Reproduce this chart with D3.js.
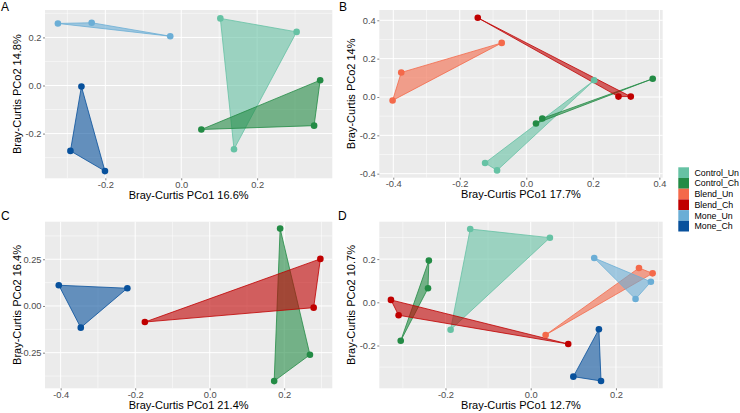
<!DOCTYPE html>
<html><head><meta charset="utf-8">
<script src="https://cdn.jsdelivr.net/npm/d3@7"></script>
<style>body{margin:0;background:#fff}svg{display:block}text{font-family:"Liberation Sans",Arial,sans-serif}</style>
</head><body><svg id="c" width="740" height="413"></svg>
<script>
const groups = ["Control_Un","Control_Ch","Blend_Un","Blend_Ch","Mone_Un","Mone_Ch"];
const groupColors = ["#66c2a4","#238b45","#f4694a","#c00000","#6baed6","#08519c"];

const pointsA = [
  {g:"Control_Un",x:0.103,y:0.279},{g:"Control_Un",x:0.304,y:0.223},{g:"Control_Un",x:0.139,y:-0.265},
  {g:"Control_Ch",x:0.366,y:0.022},{g:"Control_Ch",x:0.350,y:-0.167},{g:"Control_Ch",x:0.053,y:-0.183},
  {g:"Mone_Un",x:-0.325,y:0.258},{g:"Mone_Un",x:-0.236,y:0.261},{g:"Mone_Un",x:-0.029,y:0.205},
  {g:"Mone_Ch",x:-0.263,y:-0.004},{g:"Mone_Ch",x:-0.292,y:-0.272},{g:"Mone_Ch",x:-0.201,y:-0.356}
];
const pointsB = [
  {g:"Control_Un",x:0.204,y:0.087},{g:"Control_Un",x:-0.124,y:-0.344},{g:"Control_Un",x:-0.088,y:-0.383},
  {g:"Control_Ch",x:0.380,y:0.095},{g:"Control_Ch",x:0.048,y:-0.112},{g:"Control_Ch",x:0.029,y:-0.138},
  {g:"Blend_Un",x:-0.074,y:0.282},{g:"Blend_Un",x:-0.376,y:0.128},{g:"Blend_Un",x:-0.402,y:-0.018},
  {g:"Blend_Ch",x:-0.146,y:0.413},{g:"Blend_Ch",x:0.277,y:0.002},{g:"Blend_Ch",x:0.314,y:0.002}
];
const pointsC = [
  {g:"Control_Ch",x:0.189,y:0.414},{g:"Control_Ch",x:0.269,y:-0.261},{g:"Control_Ch",x:0.173,y:-0.402},
  {g:"Blend_Ch",x:0.297,y:0.252},{g:"Blend_Ch",x:0.279,y:-0.009},{g:"Blend_Ch",x:-0.174,y:-0.086},
  {g:"Mone_Ch",x:-0.405,y:0.111},{g:"Mone_Ch",x:-0.221,y:0.095},{g:"Mone_Ch",x:-0.346,y:-0.116}
];
const pointsD = [
  {g:"Control_Un",x:-0.142,y:0.339},{g:"Control_Un",x:0.045,y:0.299},{g:"Control_Un",x:-0.188,y:-0.127},
  {g:"Control_Ch",x:-0.239,y:0.193},{g:"Control_Ch",x:-0.241,y:0.065},{g:"Control_Ch",x:-0.305,y:-0.178},
  {g:"Blend_Un",x:0.254,y:0.159},{g:"Blend_Un",x:0.286,y:0.134},{g:"Blend_Un",x:0.035,y:-0.151},
  {g:"Blend_Ch",x:-0.328,y:0.011},{g:"Blend_Ch",x:-0.310,y:-0.060},{g:"Blend_Ch",x:0.088,y:-0.193},
  {g:"Mone_Un",x:0.149,y:0.205},{g:"Mone_Un",x:0.282,y:0.095},{g:"Mone_Un",x:0.246,y:0.015},
  {g:"Mone_Ch",x:0.160,y:-0.125},{g:"Mone_Ch",x:0.100,y:-0.344},{g:"Mone_Ch",x:0.165,y:-0.364}
];

const xTicksA = [-0.2,0.0,0.2], yTicksA = [-0.2,0.0,0.2];
const xTicksB = [-0.4,-0.2,0.0,0.2,0.4], yTicksB = [-0.4,-0.2,0.0,0.2,0.4];
const xTicksC = [-0.4,-0.2,0.0,0.2], yTicksC = [-0.25,0.00,0.25];
const xTicksD = [-0.2,0.0,0.2], yTicksD = [-0.2,0.0,0.2];
const xLabels = ["Bray-Curtis PCo1 16.6%","Bray-Curtis PCo1 17.7%","Bray-Curtis PCo1 21.4%","Bray-Curtis PCo1 12.7%"];
const yLabels = ["Bray-Curtis PCo2 14.8%","Bray-Curtis PCo2 14%","Bray-Curtis PCo2 16.4%","Bray-Curtis PCo2 10.7%"];
const panelTags = ["A","B","C","D"];

const panels = [
  {pts:pointsA, xt:xTicksA, yt:yTicksA, xd:[-0.359,0.398], yd:[-0.386,0.314], box:[45,332.3,10,178.3], yfmt:".1f", tagX:1, tagY:11},
  {pts:pointsB, xt:xTicksB, yt:yTicksB, xd:[-0.442,0.410], yd:[-0.421,0.4537], box:[379.3,662.7,10,177.7], yfmt:".1f", tagX:339, tagY:11},
  {pts:pointsC, xt:xTicksC, yt:yTicksC, xd:[-0.442,0.329], yd:[-0.4406,0.451], box:[45,332.3,221.7,388.3], yfmt:".2f", tagX:1, tagY:220},
  {pts:pointsD, xt:xTicksD, yt:yTicksD, xd:[-0.3553,0.3097], yd:[-0.398,0.373], box:[379.3,662.7,221.7,388.3], yfmt:".1f", tagX:338, tagY:220}
];

const svg = d3.select("#c");
const color = d3.scaleOrdinal().domain(groups).range(groupColors);
const fmtNum = f => v => d3.format(f)(v).replace("−","-");

function minors(ticks, dom){
  const step = ticks[1]-ticks[0];
  const out = [];
  const all = [ticks[0]-step, ...ticks];
  for (let i=0;i<all.length;i++){ const m = all[i]+step/2; if (m>dom[0] && m<dom[1]) out.push(m); }
  return out;
}

panels.forEach((p,i)=>{
  const [l,r,t,b] = p.box;
  const x = d3.scaleLinear().domain(p.xd).range([l,r]);
  const y = d3.scaleLinear().domain(p.yd).range([b,t]);
  const g = svg.append("g");
  g.append("rect").attr("x",l).attr("y",t).attr("width",r-l).attr("height",b-t).attr("fill","#ebebeb");
  minors(p.xt,p.xd).forEach(v=>g.append("line").attr("x1",x(v)).attr("x2",x(v)).attr("y1",t).attr("y2",b).attr("stroke","#fff").attr("stroke-width",0.5));
  minors(p.yt,p.yd).forEach(v=>g.append("line").attr("y1",y(v)).attr("y2",y(v)).attr("x1",l).attr("x2",r).attr("stroke","#fff").attr("stroke-width",0.5));
  p.xt.forEach(v=>g.append("line").attr("x1",x(v)).attr("x2",x(v)).attr("y1",t).attr("y2",b).attr("stroke","#fff").attr("stroke-width",1));
  p.yt.forEach(v=>g.append("line").attr("y1",y(v)).attr("y2",y(v)).attr("x1",l).attr("x2",r).attr("stroke","#fff").attr("stroke-width",1));
  const xa = g.append("g").attr("transform",`translate(0,${b})`)
    .call(d3.axisBottom(x).tickValues(p.xt).tickFormat(fmtNum(".1f")).tickSize(2).tickPadding(1));
  const ya = g.append("g").attr("transform",`translate(${l},0)`)
    .call(d3.axisLeft(y).tickValues(p.yt).tickFormat(fmtNum(p.yfmt)).tickSize(2).tickPadding(1.5));
  [xa,ya].forEach(a=>{
    a.select(".domain").remove();
    a.selectAll(".tick line").attr("stroke","#333").attr("stroke-width",0.6);
    a.selectAll(".tick text").attr("fill","#4d4d4d").style("font-size","9.3px").style("font-family","Liberation Sans, Arial, sans-serif");
  });
  const present = groups.filter(gr=>p.pts.some(d=>d.g===gr));
  present.forEach(gr=>{
    const pts = p.pts.filter(d=>d.g===gr).map(d=>[x(d.x),y(d.y)]);
    const hull = d3.polygonHull(pts);
    g.append("path").attr("d","M"+hull.map(q=>q.join(",")).join("L")+"Z")
      .attr("fill",color(gr)).attr("fill-opacity",0.6)
      .attr("stroke",color(gr)).attr("stroke-width",0.8);
  });
  present.forEach(gr=>{
    g.selectAll(null).data(p.pts.filter(d=>d.g===gr)).join("circle")
      .attr("cx",d=>x(d.x)).attr("cy",d=>y(d.y)).attr("r",3.3).attr("fill",color(gr));
  });
  g.append("text").attr("x",(l+r)/2).attr("y",b+20.5).attr("text-anchor","middle")
    .style("font-size","11px").attr("fill","#000").text(xLabels[i]);
  g.append("text").attr("transform",`translate(${l-24.5},${(t+b)/2}) rotate(-90)`).attr("text-anchor","middle")
    .style("font-size","11px").attr("fill","#000").text(yLabels[i]);
  g.append("text").attr("x",p.tagX).attr("y",p.tagY).style("font-size","12px").attr("fill","#000").text(panelTags[i]);
});

const lg = svg.append("g");
groups.forEach((gr,i)=>{
  lg.append("rect").attr("x",678.3).attr("y",167.3+i*10.7).attr("width",10.7).attr("height",10.7).attr("fill",color(gr));
  lg.append("text").attr("x",694.5).attr("y",167.3+i*10.7+5.35).attr("dy","0.35em")
    .style("font-size","8.8px").attr("fill","#000").text(gr);
});
</script></body></html>
